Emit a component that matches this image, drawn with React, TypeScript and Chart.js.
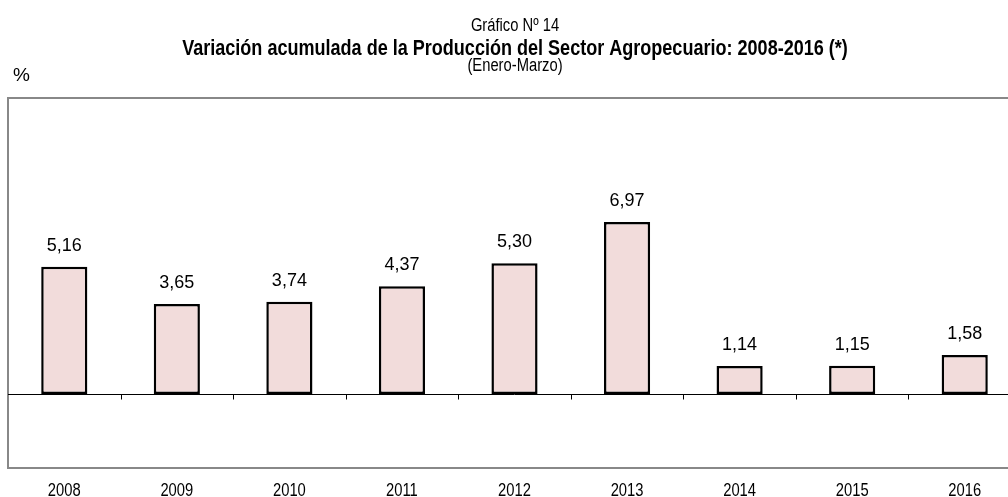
import React, { useEffect, useRef } from "react";
import { Chart, registerables } from "chart.js";

Chart.register(...registerables);

const years = ["2008", "2009", "2010", "2011", "2012", "2013", "2014", "2015", "2016"];
const values = [5.16, 3.65, 3.74, 4.37, 5.3, 6.97, 1.14, 1.15, 1.58];
const valueLabels = ["5,16", "3,65", "3,74", "4,37", "5,30", "6,97", "1,14", "1,15", "1,58"];
const titleLines = [
  "Gráfico Nº 14",
  "Variación acumulada de la Producción del Sector Agropecuario: 2008-2016 (*)",
  "(Enero-Marzo)",
];
const unitLabel = "%";
const yMin = -3;
const yMax = 12;

const SANS = '"Liberation Sans", Arial, sans-serif';

function narrowText(ctx: CanvasRenderingContext2D, text: string, x: number, y: number, font: string, align: CanvasTextAlign) {
  ctx.save();
  ctx.font = font;
  ctx.textAlign = align;
  ctx.textBaseline = "alphabetic";
  ctx.translate(x, y);
  ctx.scale(0.82, 1);
  ctx.fillText(text, 0, 0);
  ctx.restore();
}

export default function App() {
  const ref = useRef<HTMLCanvasElement>(null);
  useEffect(() => {
    if (!ref.current) return;
    const framePlugin = {
      id: "frame",
      beforeDatasetsDraw(chart: any) {
        const { ctx, chartArea } = chart;
        ctx.save();
        ctx.strokeStyle = "#888888";
        ctx.lineWidth = 2;
        ctx.strokeRect(chartArea.left, chartArea.top, chartArea.right - chartArea.left, chartArea.bottom - chartArea.top);
        const y0 = Math.round(chart.scales.y.getPixelForValue(0)) + 0.5;
        ctx.strokeStyle = "#000000";
        ctx.lineWidth = 1;
        ctx.beginPath();
        ctx.moveTo(chartArea.left, y0);
        ctx.lineTo(chartArea.right, y0);
        const xs = chart.scales.x;
        for (let i = 1; i < years.length; i++) {
          const x = Math.round((xs.getPixelForValue(i - 1) + xs.getPixelForValue(i)) / 2) + 0.5;
          ctx.moveTo(x, y0);
          ctx.lineTo(x, y0 + 5);
        }
        ctx.stroke();
        ctx.restore();
      },
      afterDatasetsDraw(chart: any) {
        const { ctx, chartArea } = chart;
        const meta = chart.getDatasetMeta(0);
        const xs = chart.scales.x;
        ctx.save();
        ctx.fillStyle = "#000";
        ctx.font = "18px " + SANS;
        ctx.textAlign = "center";
        ctx.textBaseline = "middle";
        meta.data.forEach((bar: any, i: number) => {
          ctx.fillText(valueLabels[i], bar.x, bar.y - 21);
        });
        chart.data.labels.forEach((lab: string, i: number) => {
          narrowText(ctx, lab, xs.getPixelForValue(i), chartArea.bottom + 28, "18px " + SANS, "center");
        });
        const cx = chart.width / 2;
        narrowText(ctx, titleLines[0], cx, 31, "18px " + SANS, "center");
        narrowText(ctx, titleLines[1], cx, 55, "bold 22px " + SANS, "center");
        narrowText(ctx, titleLines[2], cx, 71, "18px " + SANS, "center");
        ctx.textAlign = "left";
        ctx.textBaseline = "alphabetic";
        ctx.font = "19px " + SANS;
        ctx.fillText(unitLabel, 13, 81);
        ctx.restore();
      },
    };
    const chart = new Chart(ref.current, {
      type: "bar",
      data: {
        labels: years,
        datasets: [
          {
            data: values,
            backgroundColor: "#F2DCDB",
            borderColor: "#000000",
            borderWidth: 2.5,
            borderSkipped: false,
            barPercentage: 0.41,
            categoryPercentage: 1,
          },
        ],
      },
      options: {
        animation: false,
        responsive: false,
        maintainAspectRatio: false,
        layout: { padding: { left: 8, right: 9, top: 98, bottom: 29 } },
        plugins: { legend: { display: false }, tooltip: { enabled: false }, title: { display: false } },
        scales: {
          x: { display: false },
          y: { display: false, min: yMin, max: yMax },
        },
      },
      plugins: [framePlugin],
    });
    return () => chart.destroy();
  }, []);
  return (
    <div style={{ position: "absolute", left: 0, top: 0, width: 1008, height: 497, overflow: "hidden", background: "#fff" }}>
      <canvas ref={ref} width={1030} height={497} style={{ display: "block" }} />
    </div>
  );
}
